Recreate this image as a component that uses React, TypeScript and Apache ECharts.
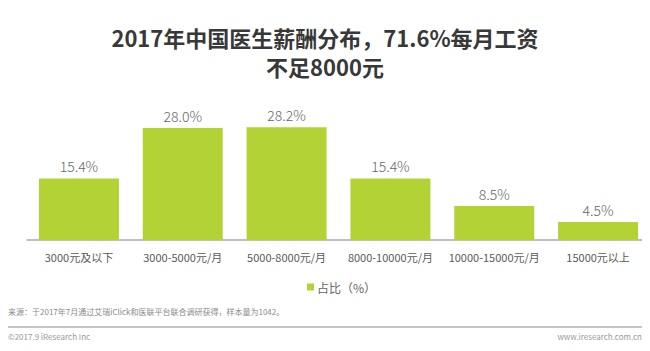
import React, { useEffect, useRef } from "react";
import * as echarts from "echarts";

const categories = ["3000元及以下", "3000-5000元/月", "5000-8000元/月", "8000-10000元/月", "10000-15000元/月", "15000元以上"];
const shares = [15.4, 28.0, 28.2, 15.4, 8.5, 4.5];
const seriesName = "占比（%）";
const titleText = "2017年中国医生薪酬分布，71.6%每月工资\n不足8000元";
const sourceText = "来源：于2017年7月通过艾瑞iClick和医联平台联合调研获得，样本量为1042。";
const copyrightText = "©2017.9 iResearch Inc";
const siteText = "www.iresearch.com.cn";

const FONT = "'Noto Sans CJK SC', 'Noto Sans', sans-serif";

export default function App() {
  const ref = useRef<HTMLDivElement>(null);
  useEffect(() => {
    if (!ref.current) return;
    const chart = echarts.init(ref.current, undefined, { renderer: "svg" });
    chart.setOption({
      animation: false,
      backgroundColor: "#ffffff",
      textStyle: { fontFamily: FONT },
      title: {
        text: titleText,
        left: "center",
        top: 17,
        textStyle: {
          fontFamily: FONT,
          fontSize: 22,
          fontWeight: "bold",
          color: "#383838",
          lineHeight: 29,
        },
      },
      legend: {
        left: 302,
        top: 276,
        itemWidth: 7,
        itemHeight: 7,
        itemGap: 10,
        icon: "rect",
        data: [seriesName],
        textStyle: { fontFamily: FONT, fontSize: 12, color: "#666666", padding: [0, 0, 0, -2] },
      },
      grid: { left: 27, width: 624, top: 120, bottom: 111, containLabel: false },
      xAxis: {
        type: "category",
        data: categories,
        axisLine: { lineStyle: { color: "#aaaaaa", width: 1.5 } },
        axisTick: { show: false },
        axisLabel: { fontFamily: FONT, fontSize: 11, color: "#5a5a5a", margin: 11, interval: 0 },
      },
      yAxis: {
        type: "value",
        min: 0,
        max: 30,
        show: false,
        splitLine: { show: false },
      },
      series: [
        {
          name: seriesName,
          type: "bar",
          data: shares,
          barWidth: 80,
          itemStyle: { color: "#b3d235" },
          label: {
            show: true,
            position: "top",
            distance: 5,
            formatter: (p: any) => p.value.toFixed(1) + "%",
            fontFamily: FONT,
            fontSize: 14,
            fontWeight: 300,
            color: "#666666",
          },
        },
      ],
      graphic: [
        {
          type: "text",
          left: 8,
          top: 307,
          style: { text: sourceText, fontFamily: FONT, fontSize: 8, fill: "#8a8a8a" },
        },
        {
          type: "line",
          shape: { x1: 8, y1: 327, x2: 643, y2: 327 },
          style: { stroke: "#b0b0b0", lineWidth: 1.5 },
        },
        {
          type: "text",
          left: 8,
          top: 332,
          style: { text: copyrightText, fontFamily: FONT, fontSize: 8, fill: "#999999" },
        },
        {
          type: "text",
          right: 8,
          top: 332,
          style: { text: siteText, fontFamily: FONT, fontSize: 8, fill: "#999999" },
        },
      ],
    });
    return () => chart.dispose();
  }, []);
  return <div ref={ref} style={{ width: 650, height: 351, margin: -8 }} />;
}
